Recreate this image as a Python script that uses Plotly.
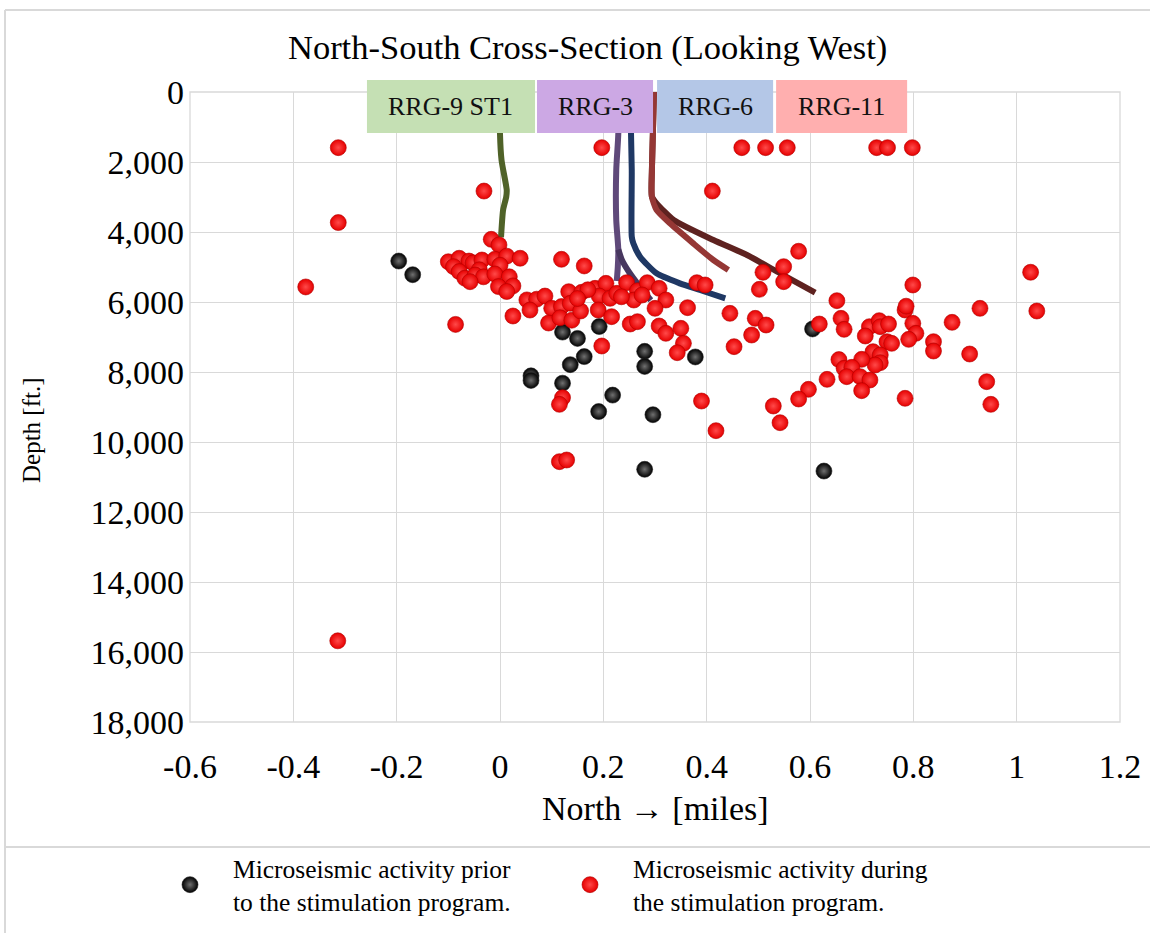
import plotly.graph_objects as go

# ---------------- data ----------------
x_ticks = [-0.6, -0.4, -0.2, 0.0, 0.2, 0.4, 0.6, 0.8, 1.0, 1.2]
x_tick_labels = ["-0.6", "-0.4", "-0.2", "0", "0.2", "0.4", "0.6", "0.8", "1", "1.2"]
y_ticks = [0, 2000, 4000, 6000, 8000, 10000, 12000, 14000, 16000, 18000]
y_tick_labels = ["0", "2,000", "4,000", "6,000", "8,000", "10,000", "12,000", "14,000", "16,000", "18,000"]

# microseismic events prior to stimulation (north miles, depth ft)
prior_x = [-0.196, -0.169, 0.121, 0.150, 0.192, 0.163, 0.136, 0.060, 0.060, 0.121,
           0.218, 0.191, 0.296, 0.280, 0.280, 0.378, 0.280, 0.605, 0.627]
prior_depth = [4830, 5220, 6860, 7040, 6700, 7560, 7790, 8110, 8240, 8320,
               8660, 9130, 9220, 7410, 7840, 7570, 10780, 6770, 10830]

# microseismic events during stimulation
during_x = [
    -0.313, 0.197, 0.468, 0.514, 0.556, 0.729, 0.750, 0.798,
    -0.031, 0.411, -0.313, -0.376, -0.086, -0.314, 0.578,
    -0.017, -0.002, -0.100, -0.079, -0.060, -0.052, -0.035, -0.010, 0.013, 0.039,
    -0.090, 0.000, -0.079, -0.040, -0.068, -0.048, -0.032, -0.010, 0.018, -0.058,
    -0.003, 0.025, 0.013, 0.119, 0.163,
    0.052, 0.071, 0.087, 0.058, 0.100, 0.025, 0.133, 0.119, 0.094, 0.116, 0.139,
    0.158, 0.184, 0.205, 0.192, 0.213, 0.226, 0.245, 0.266, 0.259, 0.285, 0.308,
    0.321, 0.300, 0.363, 0.136, 0.156, 0.190, 0.216, 0.252, 0.266, 0.308, 0.321,
    0.350, 0.355, 0.343, 0.197, 0.381, 0.397, 0.170, 0.235, 0.275, 0.150,
    0.121, 0.115, 0.390, 0.418, 0.115, 0.129,
    0.509, 0.549, 0.549, 0.502, 0.445, 0.494, 0.515, 0.487, 0.453, 0.618, 0.652,
    0.660, 0.666, 0.656, 0.666, 0.633, 0.597, 0.578, 0.529, 0.542,
    0.799, 1.027, 1.039, 0.929, 0.875, 0.784, 0.786, 0.799, 0.805, 0.791, 0.839,
    0.839, 0.909, 0.942, 0.950, 0.784, 0.715, 0.734, 0.736, 0.752, 0.707, 0.749,
    0.758, 0.722, 0.736, 0.736, 0.726, 0.700, 0.681, 0.671, 0.697, 0.716, 0.700,
]
during_depth = [
    1590, 1590, 1590, 1590, 1590, 1590, 1590, 1590,
    2830, 2830, 3730, 5570, 6640, 15680, 4550,
    4210, 4370, 4850, 4750, 4830, 4880, 4800, 4780, 4690, 4750,
    4990, 4950, 5130, 5080, 5320, 5230, 5280, 5200, 5280, 5420,
    5560, 5540, 5700, 4780, 4970,
    5940, 5920, 5830, 6230, 6180, 6400, 5705, 6130, 6600, 6450, 6520,
    5724, 5610, 5467, 5829, 5895, 5752, 5448, 5676, 5943, 5448, 5610,
    5943, 6181, 6162, 6038, 6257, 6229, 6419, 6629, 6562, 6686, 6895,
    6752, 7181, 7448, 7257, 5448, 5514, 5650, 5850, 5800, 5900,
    8733, 8924, 8829, 9676, 10562, 10514,
    5152, 4990, 5419, 5638, 6324, 6467, 6657, 6943, 7276, 6629, 5962,
    6467, 6781, 7645, 7895, 8210, 8495, 8771, 8971, 9448,
    5514, 5150, 6257, 6181, 6581, 6229, 6120, 6610, 6895, 7067, 7133,
    7400, 7486, 8276, 8924, 8752, 6705, 6533, 6705, 6629, 6971, 7133,
    7181, 7419, 7514, 7733, 7800, 7638, 7867, 8133, 8133, 8229, 8533,
]

# well trajectories
rrg9_x = [0.0, 0.0, 0.003, 0.013, 0.012, 0.006, 0.002]
rrg9_depth = [0, 1200, 1950, 2800, 3000, 3370, 4150]
rrg3_x = [0.228, 0.229, 0.225, 0.225, 0.229, 0.228, 0.226]
rrg3_depth = [0, 1180, 2230, 3660, 4510, 5000, 5400]
rrg3_lat_x = [0.229, 0.236, 0.250, 0.270, 0.292]
rrg3_lat_depth = [4500, 4800, 5150, 5550, 5950]
rrg6_x = [0.252, 0.255, 0.255, 0.258, 0.271, 0.303, 0.348, 0.387, 0.436]
rrg6_depth = [0, 2229, 4134, 4324, 4705, 5181, 5467, 5657, 5895]
rrg11a_x = [0.298, 0.294, 0.294, 0.303, 0.329, 0.374, 0.413, 0.442]
rrg11a_depth = [0, 2229, 2990, 3371, 3752, 4324, 4800, 5086]
rrg11b_x = [0.298, 0.294, 0.294, 0.303, 0.336, 0.413, 0.478, 0.542, 0.610]
rrg11b_depth = [0, 2229, 2990, 3181, 3657, 4229, 4657, 5181, 5733]

well_names = ["RRG-9 ST1", "RRG-3", "RRG-6", "RRG-11"]
well_label_x0 = [-0.2575, 0.0716, 0.304, 0.5344]
well_label_x1 = [0.0678, 0.2962, 0.5286, 0.788]
well_label_colors = ["#C5E0B4", "#CCA8E4", "#B4C7E7", "#FFAFAF"]

# ---------------- figure ----------------
fig = go.Figure()

wells = [
    (rrg9_x, rrg9_depth, "#4F6228"),
    (rrg3_x, rrg3_depth, "#5F497A"),
    (rrg3_lat_x, rrg3_lat_depth, "#47375F"),
    (rrg6_x, rrg6_depth, "#1F3864"),
    (rrg11b_x, rrg11b_depth, "#5E2220"),
    (rrg11a_x, rrg11a_depth, "#953735"),
]
for wx, wd, col in wells:
    fig.add_trace(go.Scatter(x=wx, y=wd, mode="lines", showlegend=False,
                             line=dict(color=col, width=6, shape="spline", smoothing=0.6),
                             hoverinfo="skip"))

fig.add_trace(go.Scatter(
    x=prior_x, y=prior_depth, mode="markers",
    name="Microseismic activity prior<br>to the stimulation program.",
    marker=dict(size=16, color="#000000",
                gradient=dict(type="radial", color="#707070"),
                line=dict(width=0.6, color="#222222")),
))
fig.add_trace(go.Scatter(
    x=during_x, y=during_depth, mode="markers",
    name="Microseismic activity during<br>the stimulation program.",
    marker=dict(size=16, color="#E60000",
                gradient=dict(type="radial", color="#FF4A4A"),
                line=dict(width=0.6, color="#B00000")),
))

# plot-area geometry in px (for paper-coordinate conversion)
L, R, T, B = 190, 1120, 92, 722
W, H = R - L, B - T


def px(xp):
    return (xp - L) / W


def py(yp):
    return (B - yp) / H


grid_col = "#D9D9D9"
shapes = [dict(type="rect", xref="paper", yref="paper", x0=0, x1=1, y0=0, y1=1,
               line=dict(color=grid_col, width=1.3), layer="below")]
annotations = []
for name, x0, x1, col in zip(well_names, well_label_x0, well_label_x1, well_label_colors):
    shapes.append(dict(type="rect", xref="x", yref="paper", x0=x0, x1=x1,
                       y0=py(133), y1=py(80), fillcolor=col, line=dict(width=0),
                       layer="above"))
    annotations.append(dict(xref="x", yref="paper", x=(x0 + x1) / 2, y=py(106.5),
                            text=name, showarrow=False, xanchor="center", yanchor="middle",
                            font=dict(size=26, color="#111111")))

# outer frame and legend separator
frame_col = "#D9D9D9"
shapes.append(dict(type="line", xref="paper", yref="paper", x0=px(5), x1=px(5),
                   y0=py(10), y1=py(940), line=dict(color=frame_col, width=2)))
shapes.append(dict(type="line", xref="paper", yref="paper", x0=px(5), x1=px(1160),
                   y0=py(10), y1=py(10), line=dict(color=frame_col, width=2)))
shapes.append(dict(type="line", xref="paper", yref="paper", x0=px(5), x1=px(1160),
                   y0=py(847), y1=py(847), line=dict(color=frame_col, width=2)))

annotations.append(dict(xref="paper", yref="paper", x=px(31), y=py(430),
                        text="Depth [ft.]", textangle=-90, showarrow=False,
                        xanchor="center", yanchor="middle",
                        font=dict(size=25, color="#000000")))
annotations.append(dict(xref="paper", yref="paper", x=px(655), y=py(808),
                        text="North \u2192 [miles]", showarrow=False,
                        xanchor="center", yanchor="middle",
                        font=dict(size=34, color="#000000")))

fig.update_layout(
    width=1150, height=933,
    margin=dict(l=L, r=1150 - R, t=T, b=933 - B, autoexpand=False),
    plot_bgcolor="white", paper_bgcolor="white",
    font=dict(family="Liberation Serif", color="#000000"),
    title=dict(text="North-South Cross-Section (Looking West)",
               x=0.511, xref="container", xanchor="center",
               y=1 - 47 / 933, yref="container", yanchor="middle",
               font=dict(size=34.5, color="#000000")),
    xaxis=dict(range=[-0.6, 1.2], tickvals=x_ticks, ticktext=x_tick_labels,
               showgrid=True, gridcolor=grid_col, gridwidth=1.3,
               zeroline=False, showline=False, ticks="",
               ticklabelstandoff=21, tickfont=dict(size=34)),
    yaxis=dict(range=[18000, 0], tickvals=y_ticks, ticktext=y_tick_labels,
               showgrid=True, gridcolor=grid_col, gridwidth=1.3,
               zeroline=False, showline=False, ticks="",
               ticklabelstandoff=5, tickfont=dict(size=34)),
    legend=dict(orientation="h", x=px(147), y=py(845), xanchor="left", yanchor="top",
                font=dict(size=25.5), entrywidth=309, bgcolor="rgba(0,0,0,0)",
                itemsizing="trace", itemwidth=76),
    shapes=shapes,
    annotations=annotations,
)

fig.write_html("out.html", config={"displayModeBar": False},
               post_script="document.body.style.margin='0';document.body.style.overflow='hidden';")
